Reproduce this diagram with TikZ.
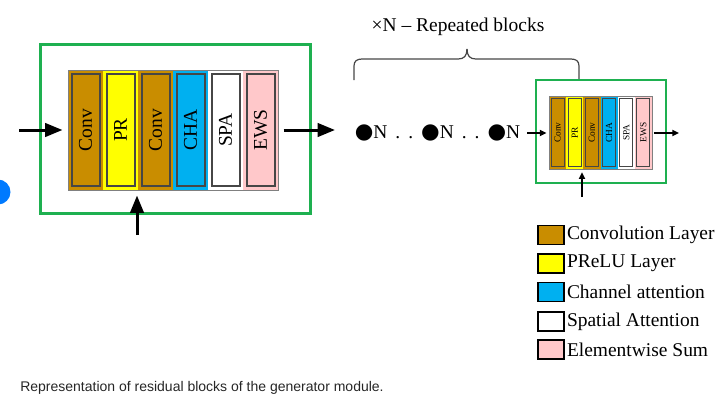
\documentclass[tikz,border=0pt]{standalone}
\usepackage{fontspec}
\setmainfont{Liberation Serif}
\newfontfamily\capfont{Liberation Sans}
\newfontfamily\symfont{DejaVu Sans}
\usetikzlibrary{arrows.meta,positioning}

\definecolor{convcol}{RGB}{201,141,0}
\definecolor{prcol}{RGB}{255,255,0}
\definecolor{chacol}{RGB}{0,176,240}
\definecolor{spacol}{RGB}{255,255,255}
\definecolor{ewscol}{RGB}{255,200,202}
\definecolor{boxgreen}{RGB}{30,176,80}
\definecolor{dotblue}{RGB}{0,122,255}
\definecolor{edgegray}{RGB}{70,70,70}

\newcommand{\bigdot}{{\symfont\fontsize{16}{18}\selectfont●}}
\newcommand{\gapdots}{\hspace{6pt}.\hspace{6pt}.\hspace{6pt}}

\tikzset{
  bigfont/.style={font=\fontsize{14.6}{17}\selectfont},
  smallfont/.style={font=\fontsize{7}{8}\selectfont},
  biglayer/.style={draw=edgegray, line width=1.5pt, rotate=90, inner sep=0pt,
    minimum width=84pt, minimum height=21pt, bigfont},
  smalllayer/.style={draw=edgegray, line width=0.8pt, rotate=90, inner sep=0pt,
    minimum width=51pt, minimum height=9.75pt, smallfont},
  bigarrow/.style={line width=2.25pt, -{Triangle[length=13pt,width=10pt]}},
  smallarrow/.style={line width=1.5pt, -{Triangle[length=5pt,width=4.5pt]}},
  legbox/.style={draw=black, line width=1.1pt, minimum width=19.5pt, minimum height=14.25pt, inner sep=0pt},
  legtext/.style={bigfont, inner sep=1.5pt, anchor=west}
}

\begin{document}
\begin{tikzpicture}[x=0.75pt,y=0.75pt,yscale=-1,xscale=1]
\useasboundingbox (0,0) rectangle (722,401);

%Shape: Circle (blue mark at the edge)
\fill[dotblue] (-2,192) circle (12.5);

%Shape: Rectangle (green frame of the first block)
\draw[boxgreen, line width=2.25pt] (40,44) rectangle (310,213);

%Strips of the first block
\fill[convcol] (68,70) rectangle (103,190);
\fill[prcol] (103,70) rectangle (138,190);
\fill[convcol] (138,70) rectangle (173,190);
\fill[chacol] (173,70) rectangle (208,190);
\fill[spacol] (208,70) rectangle (243,190);
\fill[ewscol] (243,70) rectangle (278,190);

% Layer Nodes
\node[biglayer, fill=convcol] (convA1) at (85.5,130) {Conv};
\node[biglayer, fill=prcol] (prA) at (120.5,130) {PR};
\node[biglayer, fill=convcol] (convA2) at (155.5,130) {Conv};
\node[biglayer, fill=chacol] (chaA) at (190.5,130) {CHA};
\node[biglayer, fill=spacol] (spaA) at (225.5,130) {SPA};
\node[biglayer, fill=ewscol] (ewsA) at (260.5,130) {EWS};

%Shape: Rectangle (outline of the layers)
\node[draw=gray, line width=0.75pt, minimum width=157.5pt, minimum height=90pt, inner sep=0pt] (blockA) at (173,130) {};

%Arrows of the first block
\coordinate (inA) at (19,130);
\coordinate (outA) at (335,130);
\coordinate (upA) at (137,235);
\draw[bigarrow, shorten >=3.75pt] (inA) -- (blockA.west);
\draw[bigarrow, shorten <=3.75pt] (blockA.east) -- (outA);
\draw[bigarrow, shorten >=3.75pt] (upA) -- (upA |- blockA.south);

% Text Node
\node[bigfont] (title) at (458,27) {×N – Repeated blocks};

%Curve Lines (brace)
\draw[edgegray, line width=0.9pt] (354,80) -- (354,66) .. controls (354,61) and (357,59) .. (362,59) -- (458,59) .. controls (464,59) and (467,56) .. (467,49);
\draw[edgegray, line width=0.9pt] (467,49) .. controls (467,56) and (470,59) .. (476,59) -- (571,59) .. controls (576,59) and (579,61) .. (579,66) -- (579,80);

% Text Node
\node[bigfont, inner sep=0pt] (dots) at (437.5,133) {\bigdot N\gapdots\bigdot N\gapdots\bigdot N};

%Shape: Rectangle (green frame of the last block)
\draw[boxgreen, line width=1.5pt] (536,80) rectangle (666,183);

%Strips of the last block
\fill[convcol] (549,96) rectangle (566.17,169);
\fill[prcol] (566.17,96) rectangle (583.33,169);
\fill[convcol] (583.33,96) rectangle (600.5,169);
\fill[chacol] (600.5,96) rectangle (617.67,169);
\fill[spacol] (617.67,96) rectangle (634.83,169);
\fill[ewscol] (634.83,96) rectangle (652,169);

% Layer Nodes
\node[smalllayer, fill=convcol] (convB1) at (557.6,132.5) {Conv};
\node[smalllayer, fill=prcol] (prB) at (574.75,132.5) {PR};
\node[smalllayer, fill=convcol] (convB2) at (591.9,132.5) {Conv};
\node[smalllayer, fill=chacol] (chaB) at (609.1,132.5) {CHA};
\node[smalllayer, fill=spacol] (spaB) at (626.25,132.5) {SPA};
\node[smalllayer, fill=ewscol] (ewsB) at (643.4,132.5) {EWS};

%Shape: Rectangle (outline of the layers)
\node[draw=gray, line width=0.75pt, minimum width=77.25pt, minimum height=54.75pt, inner sep=0pt] (blockB) at (600.5,132.5) {};

%Arrows of the last block
\coordinate (outB) at (679,133);
\coordinate (upB) at (582,197);
\draw[smallarrow, shorten <=5pt, shorten >=1.5pt] (dots.east) -- (dots.east -| blockB.west);
\draw[smallarrow, shorten <=1pt] (blockB.east |- outB) -- (outB);
\draw[smallarrow, shorten >=2pt] (upB) -- (upB |- blockB.south);

% Legend
\node[legbox, fill=convcol] (legConv) at (551,235) {};
\node[legbox, fill=prcol] (legPR) at (551,263.5) {};
\node[legbox, fill=chacol] (legCHA) at (551,292) {};
\node[legbox, fill=spacol] (legSPA) at (551,321.5) {};
\node[legbox, fill=ewscol] (legEWS) at (551,349.5) {};
\node[legtext, right=0pt of legConv] (legConvT) {Convolution Layer};
\node[legtext, right=0pt of legPR] (legPRT) {PReLU Layer};
\node[legtext, right=0pt of legCHA] (legCHAT) {Channel attention};
\node[legtext, right=0pt of legSPA] (legSPAT) {Spatial Attention};
\node[legtext, right=0pt of legEWS] (legEWST) {Elementwise Sum};

% Caption
\node[anchor=west, inner sep=0pt, font=\capfont\fontsize{10.5}{12}\selectfont, text=black!85] (caption) at (20,388) {Representation of residual blocks of the generator module.};

\end{tikzpicture}
\end{document}
